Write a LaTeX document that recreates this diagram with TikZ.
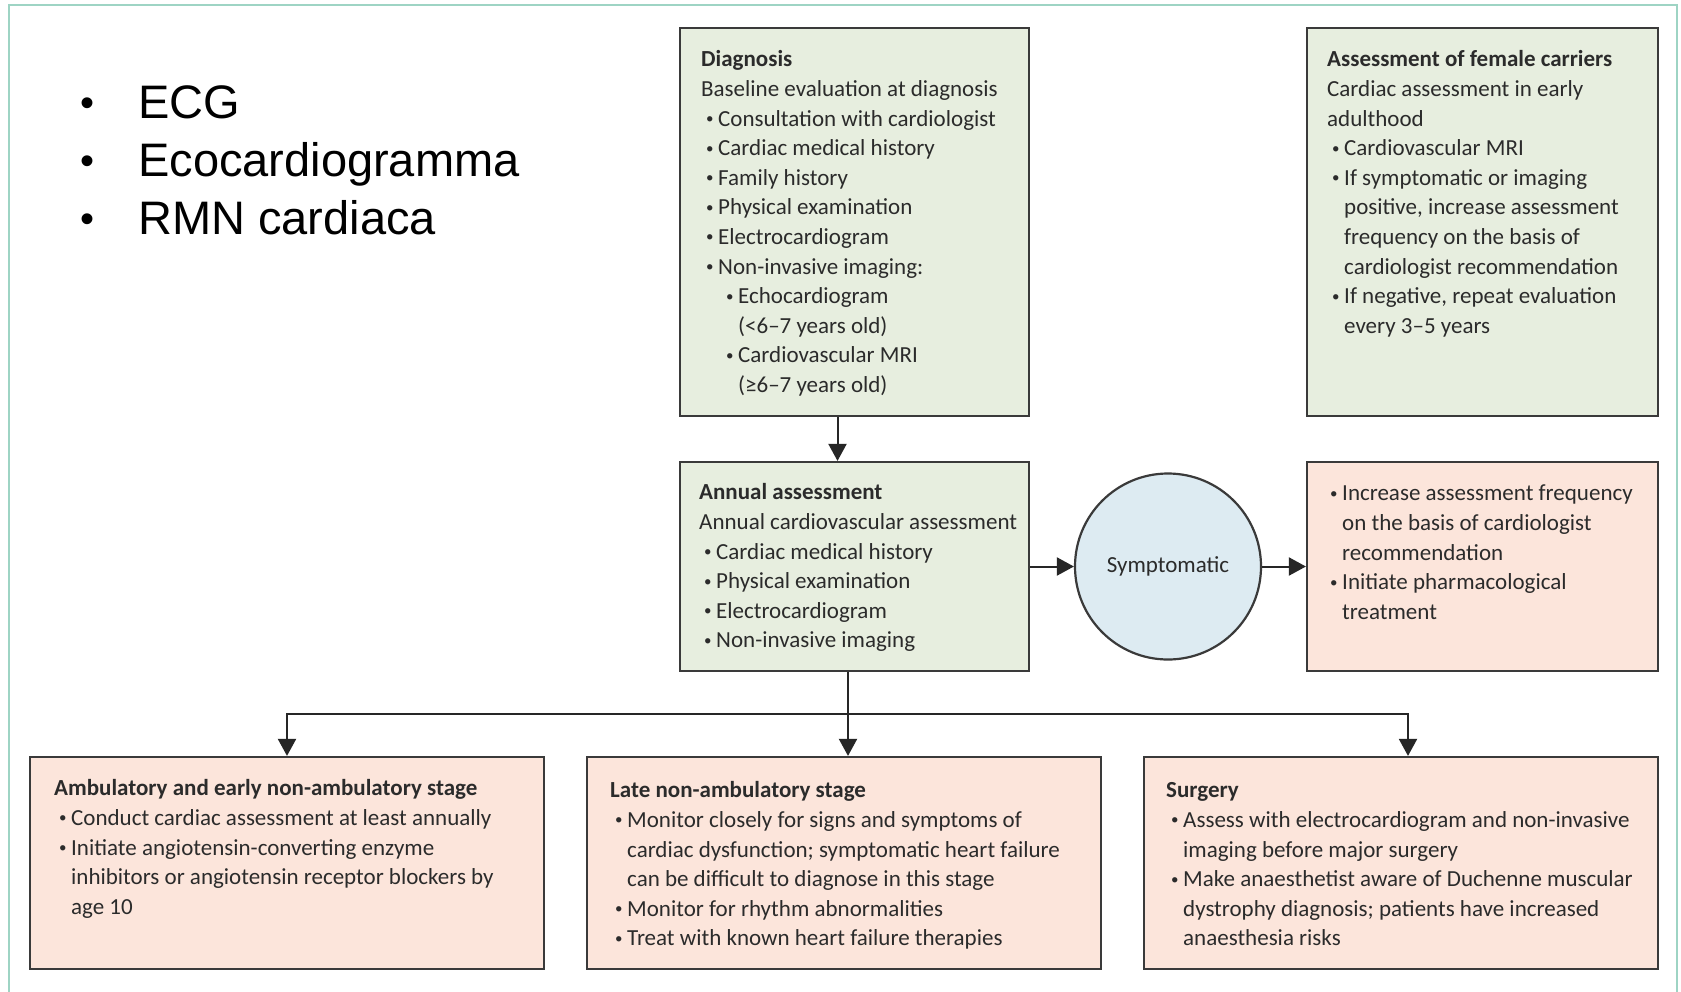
\documentclass[tikz,border=0pt]{standalone}
\usepackage{fontspec}
\setmainfont{Carlito}
\newfontfamily\listfont{Liberation Sans}
\usetikzlibrary{arrows.meta}

\definecolor{boxgreen}{HTML}{E7EEDF}
\definecolor{boxred}{HTML}{FCE5DB}
\definecolor{boxblue}{HTML}{DDEBF2}
\definecolor{framecol}{HTML}{9ED4C4}
\definecolor{inkgray}{HTML}{2B2B2B}
\definecolor{edgegray}{HTML}{3A3A3A}

% small bullet used inside the panels
\newcommand\bul{\raisebox{2.6pt}{\fontsize{15}{15}\selectfont\textbullet}}
% bullet lines, continuation lines and nested bullets
\newcommand\itm[1]{\hspace*{5pt}\makebox[12pt][l]{\bul}#1}
\newcommand\cnt[1]{\hspace*{17pt}#1}
\newcommand\sitm[1]{\hspace*{25pt}\makebox[12pt][l]{\bul}#1}
\newcommand\scnt[1]{\hspace*{37pt}#1}

\begin{document}
\begin{tikzpicture}[x=1pt,y=-1pt,
  panel/.style={rectangle, draw=edgegray, line width=2.2pt, inner sep=0pt},
  greenbox/.style={panel, fill=boxgreen},
  redbox/.style={panel, fill=boxred},
  blurb/.style={anchor=north west, inner sep=0pt, align=left, text=inkgray,
    font=\fontsize{23}{29.6}\selectfont},
  arr/.style={line width=2pt, draw=black!85, -{Triangle[length=17pt,width=18pt]}}]

\useasboundingbox (0,0) rectangle (1681,991);
\fill[white] (0,0) rectangle (1681,991);
\draw[framecol, line width=2.5pt] (9,995) -- (9,5) -- (1677,5) -- (1677,995);

% short list on the left
\node[anchor=north west, inner sep=0pt, align=left, text=black,
  font=\listfont\fontsize{47}{58}\selectfont] (list) at (80,78)
  {\strut\makebox[58pt][l]{\raisebox{2pt}{\fontsize{40}{40}\selectfont\textbullet}}ECG\\
   \makebox[58pt][l]{\raisebox{2pt}{\fontsize{40}{40}\selectfont\textbullet}}Ecocardiogramma\\
   \makebox[58pt][l]{\raisebox{2pt}{\fontsize{40}{40}\selectfont\textbullet}}RMN cardiaca};

% panels
\node[greenbox, minimum width=349pt, minimum height=388pt] (diag) at (854.5,222) {};
\node[greenbox, minimum width=351pt, minimum height=388pt] (female) at (1482.5,222) {};
\node[greenbox, minimum width=349pt, minimum height=209pt] (annual) at (854.5,566.5) {};
\node[circle, draw=edgegray, line width=2.2pt, fill=boxblue, minimum size=186pt,
  inner sep=0pt, text=inkgray, font=\fontsize{23}{28}\selectfont] (sympt) at (1168,566.5) {Symptomatic};
\node[redbox, minimum width=351pt, minimum height=209pt] (treat) at (1482.5,566.5) {};
\node[redbox, minimum width=514pt, minimum height=212pt] (early) at (287,863) {};
\node[redbox, minimum width=514pt, minimum height=212pt] (late) at (844,863) {};
\node[redbox, minimum width=514pt, minimum height=212pt] (surgery) at (1401,863) {};

% panel texts
\node[blurb] (diagtxt) at (701,46) {\strut\textbf{Diagnosis}\\
  Baseline evaluation at diagnosis\\
  \itm{Consultation with cardiologist}\\
  \itm{Cardiac medical history}\\
  \itm{Family history}\\
  \itm{Physical examination}\\
  \itm{Electrocardiogram}\\
  \itm{Non-invasive imaging:}\\
  \sitm{Echocardiogram}\\
  \scnt{(<6–7 years old)}\\
  \sitm{Cardiovascular MRI}\\
  \scnt{(≥6–7 years old)}};

\node[blurb] (femaletxt) at (1327,46) {\strut\textbf{Assessment of female carriers}\\
  Cardiac assessment in early\\
  adulthood\\
  \itm{Cardiovascular MRI}\\
  \itm{If symptomatic or imaging}\\
  \cnt{positive, increase assessment}\\
  \cnt{frequency on the basis of}\\
  \cnt{cardiologist recommendation}\\
  \itm{If negative, repeat evaluation}\\
  \cnt{every 3–5 years}};

\node[blurb] (annualtxt) at (699,479) {\strut\textbf{Annual assessment}\\
  Annual cardiovascular assessment\\
  \itm{Cardiac medical history}\\
  \itm{Physical examination}\\
  \itm{Electrocardiogram}\\
  \itm{Non-invasive imaging}};

\node[blurb] (treattxt) at (1325,480) {\strut\itm{Increase assessment frequency}\\
  \cnt{on the basis of cardiologist}\\
  \cnt{recommendation}\\
  \itm{Initiate pharmacological}\\
  \cnt{treatment}};

\node[blurb] (earlytxt) at (54,775) {\strut\textbf{Ambulatory and early non-ambulatory stage}\\
  \itm{Conduct cardiac assessment at least annually}\\
  \itm{Initiate angiotensin-converting enzyme}\\
  \cnt{inhibitors or angiotensin receptor blockers by}\\
  \cnt{age 10}};

\node[blurb] (latetxt) at (610,777) {\strut\textbf{Late non-ambulatory stage}\\
  \itm{Monitor closely for signs and symptoms of}\\
  \cnt{cardiac dysfunction; symptomatic heart failure}\\
  \cnt{can be difficult to diagnose in this stage}\\
  \itm{Monitor for rhythm abnormalities}\\
  \itm{Treat with known heart failure therapies}};

\node[blurb] (surgerytxt) at (1166,777) {\strut\textbf{Surgery}\\
  \itm{Assess with electrocardiogram and non-invasive}\\
  \cnt{imaging before major surgery}\\
  \itm{Make anaesthetist aware of Duchenne muscular}\\
  \cnt{dystrophy diagnosis; patients have increased}\\
  \cnt{anaesthesia risks}};

% connectors
\draw[arr] ([xshift=-17pt]diag.south) -- ([xshift=-17pt]annual.north);
\draw[arr] (annual.east) -- (sympt.west);
\draw[arr] (sympt.east) -- (treat.west);
\coordinate (split) at (848,714);
\coordinate (surgin) at ([xshift=7pt]surgery.north);
\draw[arr] ([xshift=-6.5pt]annual.south) -- ([xshift=-6.5pt]annual.south |- late.north);
\draw[arr] (split) -| (early.north);
\draw[arr] (split) -| (surgin);
\end{tikzpicture}
\end{document}
